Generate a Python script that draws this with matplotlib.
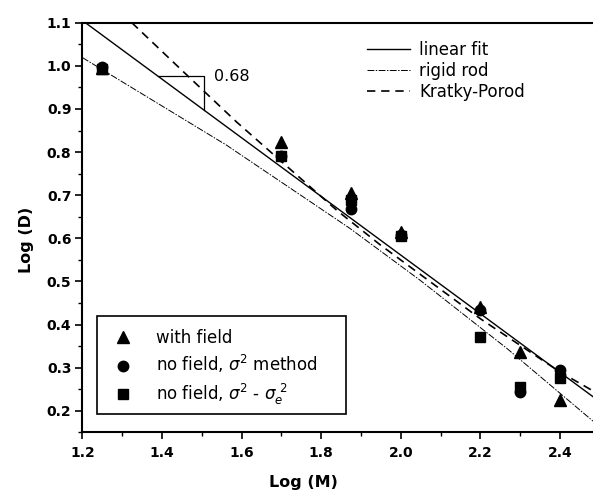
import numpy as np
import matplotlib
matplotlib.use('Agg')
import matplotlib.pyplot as plt
from matplotlib.ticker import MultipleLocator, FormatStrFormatter
from matplotlib.patches import Rectangle

plt.rcParams['font.family'] = 'DejaVu Sans'
plt.rcParams['mathtext.fontset'] = 'dejavusans'

# measured diffusion data, log D vs log M
log_m = [1.25, 1.70, 1.875, 2.0, 2.2, 2.3, 2.4]
d_field = [0.995, 0.824, 0.705, 0.614, 0.441, 0.337, 0.224]
d_sigma = [0.998, 0.791, 0.669, 0.607, 0.433, 0.244, 0.294]
d_sigma_e = [0.992, 0.790, 0.688, 0.606, 0.371, 0.254, 0.276]

# theory curves
rod_m = [1.2, 1.562, 1.872, 2.048, 2.266, 2.483]
rod_d = [1.019, 0.816, 0.623, 0.503, 0.345, 0.176]
kp_m = [1.324, 1.455, 1.587, 1.839, 1.948, 2.199, 2.4, 2.483]
kp_d = [1.10, 0.985, 0.870, 0.665, 0.585, 0.414, 0.290, 0.246]

# linear fit
fit_slope = -0.68
fit_icpt = 1.921
fit_m = [1.2, 2.483]

fig = plt.figure(figsize=(5.93, 4.94), dpi=100)
ax = fig.add_axes([0.1391, 0.1249, 0.8609, 0.8291])

fit_d = [fit_icpt + fit_slope * m for m in fit_m]
l1, = ax.plot(fit_m, fit_d, color='black', lw=1.0, label='linear fit')
l2, = ax.plot(rod_m, rod_d, color='black', lw=0.7, ls=(0, (7, 1.5, 1.5, 1.5)), label='rigid rod')
l3, = ax.plot(kp_m, kp_d, color='black', lw=1.2, ls=(0, (5, 3.5)), label='Kratky-Porod')

p1, = ax.plot(log_m, d_field, '^', color='black', ms=8, ls='none', label='with field')
p2, = ax.plot(log_m, d_sigma, 'o', color='black', ms=7.5, ls='none', label=r'no field, $\sigma^2$ method')
p3, = ax.plot(log_m, d_sigma_e, 's', color='black', ms=6.5, ls='none', label=r'no field, $\sigma^2$ - $\sigma_e^{\ 2}$')

# slope triangle on the fit line
x0, x1 = 1.39, 1.505
y0 = fit_icpt + fit_slope * x0
y1 = fit_icpt + fit_slope * x1
ax.plot([x0, x1, x1], [y0, y0, y1], color='black', lw=0.9)
ax.text(x1 + 0.025, y0, '%.2f' % abs(fit_slope), fontsize=11.5, va='center', ha='left')

ax.set_xlim(1.2, 2.483)
ax.set_ylim(0.15, 1.1)
ax.xaxis.set_major_locator(MultipleLocator(0.2))
ax.xaxis.set_minor_locator(MultipleLocator(0.1))
ax.yaxis.set_major_locator(MultipleLocator(0.1))
ax.yaxis.set_minor_locator(MultipleLocator(0.05))
ax.xaxis.set_major_formatter(FormatStrFormatter('%.1f'))
ax.yaxis.set_major_formatter(FormatStrFormatter('%.1f'))
ax.tick_params(which='major', direction='out', length=5, width=1.2, labelsize=10)
ax.tick_params(which='minor', direction='out', length=3, width=1.0)
ax.tick_params(axis='x', which='major', pad=5)
ax.tick_params(axis='y', which='major', pad=3)
for lab in ax.get_xticklabels() + ax.get_yticklabels():
    lab.set_fontweight('bold')

ax.spines['right'].set_visible(False)
for s in ['left', 'bottom', 'top']:
    ax.spines[s].set_linewidth(1.5)

ax.set_xlabel('Log (M)', fontsize=11.5, fontweight='bold')
ax.set_ylabel('Log (D)', fontsize=11.5, fontweight='bold')
ax.xaxis.set_label_coords(0.432, -0.105)
ax.yaxis.set_label_coords(-0.095, 0.469)

leg1 = ax.legend(handles=[l1, l2, l3], loc='upper left', bbox_to_anchor=(0.557, 0.955),
                 frameon=False, fontsize=12, handlelength=2.6, handletextpad=0.55,
                 labelspacing=0.18, borderpad=0, borderaxespad=0)
ax.add_artist(leg1)

leg2 = ax.legend(handles=[p1, p2, p3], loc='upper left', bbox_to_anchor=(0.052, 0.252),
                 frameon=False, fontsize=12, handlelength=1.7,
                 handletextpad=1.1, labelspacing=0.37, borderpad=0, borderaxespad=0)

# box around the symbol legend
ax.add_patch(Rectangle((0.029, 0.044), 0.487, 0.241, transform=ax.transAxes,
                       fill=False, edgecolor='black', lw=1.2, zorder=5))

fig.savefig('out.png', dpi=100)
